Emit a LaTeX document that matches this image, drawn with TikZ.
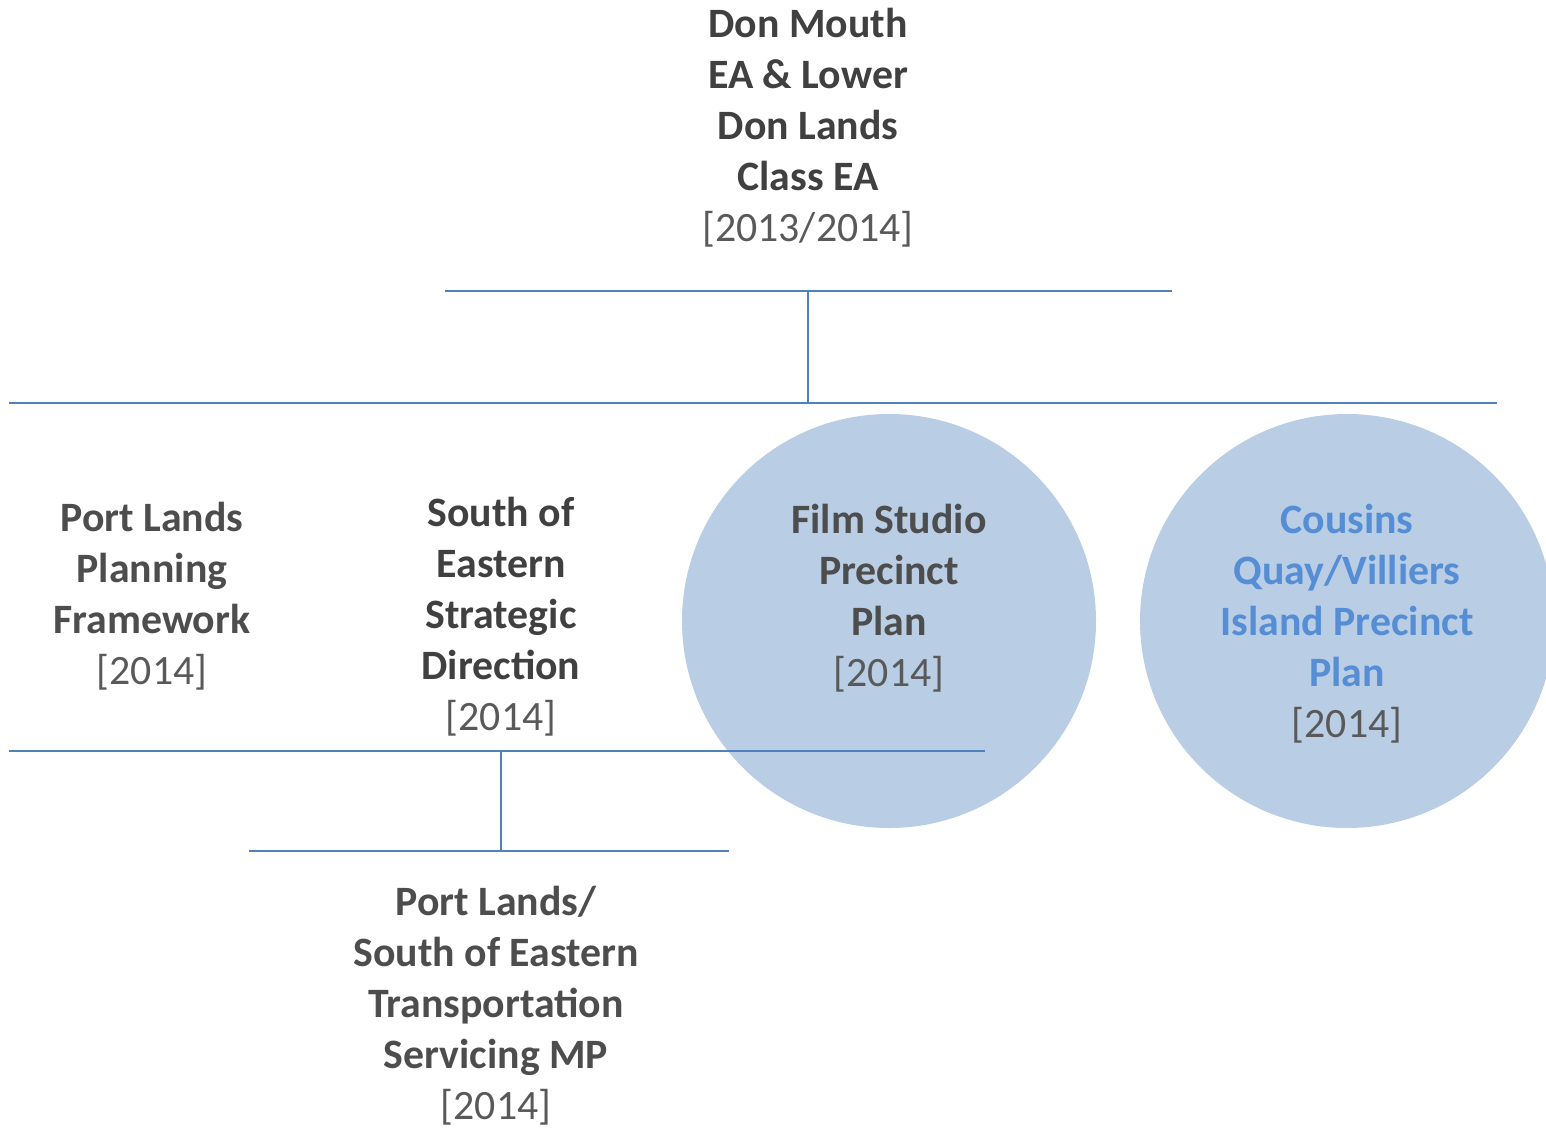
\documentclass[tikz,border=0pt]{standalone}
\usepackage{fontspec}
\setmainfont{Carlito}
\definecolor{linec}{HTML}{4F81BD}
\definecolor{circf}{HTML}{B9CDE5}
\definecolor{txtd}{HTML}{404040}
\definecolor{txtm}{HTML}{4D4D4D}
\definecolor{yearc}{HTML}{595959}
\definecolor{bluet}{HTML}{558ED5}
\tikzset{
  conn/.style={draw=linec, line width=2.3pt},
  lbl/.style={align=center, inner sep=0pt, font=\fontsize{41.8}{51}\selectfont\bfseries, text=txtd},
  bub/.style={circle, fill=circf, minimum size=414pt, inner sep=0pt},
  yr/.style={font=\fontsize{41.8}{51}\selectfont\mdseries, text=yearc}
}
\begin{document}
\begin{tikzpicture}[x=1pt,y=-1pt]
\useasboundingbox (0,0) rectangle (1546,1129);
% bubbles
\node[bub] (film) at (889,621) {};
\node[bub] (cous) at (1347,621) {};
% connectors
\coordinate (t1) at (445,291); \coordinate (t2) at (1172,291);
\coordinate (tm) at (808,291); \coordinate (mm) at (808,403);
\coordinate (m1) at (9,403); \coordinate (m2) at (1497,403);
\coordinate (b1) at (9,751); \coordinate (b2) at (985,751);
\coordinate (bm) at (501,751); \coordinate (lm) at (501,851);
\coordinate (l1) at (249,851); \coordinate (l2) at (729,851);
\draw[conn] (t1) -- (t2);
\draw[conn] (tm) -- (mm);
\draw[conn] (m1) -- (m2);
\draw[conn] (b1) -- (b2);
\draw[conn] (bm) -- (lm);
\draw[conn] (l1) -- (l2);
% labels
\node[lbl] (don) at (808,128) {Don Mouth\\EA \& Lower\\Don Lands\\Class EA\\{\mdseries\color{yearc}[2013/2014]}};
\node[lbl, text=txtm] (plpf) at (152,596) {Port Lands\\Planning\\Framework\\{\mdseries\color{yearc}[2014]}};
\node[lbl] (soe) at (501,617) {South of\\Eastern\\Strategic\\Direction\\{\mdseries\color{yearc}[2014]}};
\node[lbl, text=txtm] (fs) at (889,598) {Film Studio\\Precinct\\Plan\\{\mdseries\color{yearc}[2014]}};
\node[lbl, text=bluet] (cq) at (1347,624) {Cousins\\Quay/Villiers\\Island Precinct\\Plan\\{\mdseries\color{yearc}[2014]}};
\node[lbl, text=txtm] (pls) at (496,1006) {Port Lands/\\South of Eastern\\Transportation\\Servicing MP\\{\mdseries\color{yearc}[2014]}};
\end{tikzpicture}
\end{document}
